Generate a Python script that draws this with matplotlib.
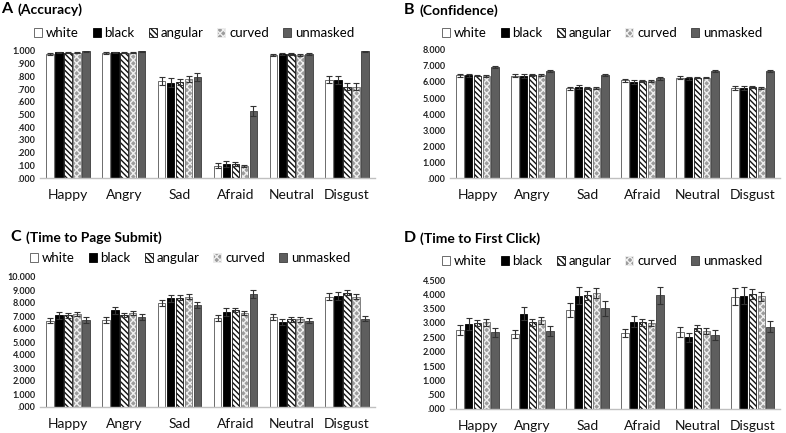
import matplotlib
matplotlib.use("Agg")
import matplotlib.pyplot as plt
import numpy as np

plt.rcParams['font.family'] = ['Lato', 'DejaVu Sans']
plt.rcParams['hatch.linewidth'] = 1.0

categories = ["Happy", "Angry", "Sad", "Afraid", "Neutral", "Disgust"]
series = ["white", "black", "angular", "curved", "unmasked"]

# Panel A: Accuracy
acc_white = [0.980, 0.985, 0.765, 0.095, 0.970, 0.775]
acc_black = [0.990, 0.990, 0.750, 0.110, 0.975, 0.770]
acc_angular = [0.985, 0.988, 0.755, 0.110, 0.975, 0.720]
acc_curved = [0.985, 0.985, 0.780, 0.095, 0.970, 0.720]
acc_unmasked = [0.998, 0.998, 0.795, 0.530, 0.975, 0.998]
acc_err_white = [0.008, 0.005, 0.030, 0.020, 0.008, 0.030]
acc_err_black = [0.004, 0.004, 0.035, 0.022, 0.008, 0.030]
acc_err_angular = [0.004, 0.004, 0.022, 0.015, 0.006, 0.025]
acc_err_curved = [0.004, 0.004, 0.022, 0.010, 0.006, 0.025]
acc_err_unmasked = [0.002, 0.002, 0.030, 0.040, 0.006, 0.002]

# Panel B: Confidence
conf_white = [6.42, 6.40, 5.60, 6.10, 6.28, 5.60]
conf_black = [6.42, 6.40, 5.70, 6.00, 6.22, 5.65]
conf_angular = [6.40, 6.45, 5.65, 6.05, 6.28, 5.70]
conf_curved = [6.38, 6.42, 5.65, 6.08, 6.28, 5.62]
conf_unmasked = [6.92, 6.68, 6.45, 6.22, 6.68, 6.68]
conf_err_white = [0.10, 0.10, 0.10, 0.10, 0.10, 0.12]
conf_err_black = [0.10, 0.12, 0.12, 0.10, 0.10, 0.12]
conf_err_angular = [0.05, 0.06, 0.06, 0.05, 0.05, 0.06]
conf_err_curved = [0.06, 0.06, 0.06, 0.06, 0.06, 0.06]
conf_err_unmasked = [0.06, 0.07, 0.07, 0.07, 0.08, 0.07]

# Panel C: Time to Page Submit
sub_white = [6.65, 6.72, 8.00, 6.85, 6.95, 8.50]
sub_black = [7.05, 7.45, 8.35, 7.30, 6.55, 8.55]
sub_angular = [7.05, 7.05, 8.40, 7.45, 6.75, 8.80]
sub_curved = [7.15, 7.25, 8.50, 7.25, 6.75, 8.50]
sub_unmasked = [6.72, 6.92, 7.85, 8.70, 6.65, 6.80]
sub_err_white = [0.22, 0.22, 0.25, 0.25, 0.22, 0.28]
sub_err_black = [0.25, 0.28, 0.28, 0.28, 0.22, 0.30]
sub_err_angular = [0.18, 0.15, 0.18, 0.18, 0.18, 0.20]
sub_err_curved = [0.18, 0.15, 0.18, 0.15, 0.18, 0.22]
sub_err_unmasked = [0.22, 0.25, 0.25, 0.30, 0.22, 0.22]

# Panel D: Time to First Click
clk_white = [2.75, 2.62, 3.45, 2.65, 2.68, 3.92]
clk_black = [2.97, 3.32, 3.95, 3.05, 2.50, 3.95]
clk_angular = [3.00, 3.02, 3.97, 3.02, 2.82, 4.02]
clk_curved = [3.02, 3.10, 4.05, 3.00, 2.72, 3.93]
clk_unmasked = [2.68, 2.72, 3.52, 3.97, 2.58, 2.87]
clk_err_white = [0.17, 0.15, 0.25, 0.15, 0.17, 0.30]
clk_err_black = [0.21, 0.23, 0.30, 0.20, 0.16, 0.30]
clk_err_angular = [0.12, 0.12, 0.16, 0.13, 0.11, 0.17]
clk_err_curved = [0.12, 0.12, 0.18, 0.12, 0.11, 0.16]
clk_err_unmasked = [0.16, 0.18, 0.26, 0.30, 0.17, 0.20]

panels = [
    ("A", "(Accuracy)", [acc_white, acc_black, acc_angular, acc_curved, acc_unmasked],
     [acc_err_white, acc_err_black, acc_err_angular, acc_err_curved, acc_err_unmasked],
     1.0, 0.1, ['.000', '.100', '.200', '.300', '.400', '.500', '.600', '.700', '.800', '.900', '1.000']),
    ("B", "(Confidence)", [conf_white, conf_black, conf_angular, conf_curved, conf_unmasked],
     [conf_err_white, conf_err_black, conf_err_angular, conf_err_curved, conf_err_unmasked],
     8.0, 1.0, ['.000', '1.000', '2.000', '3.000', '4.000', '5.000', '6.000', '7.000', '8.000']),
    ("C", "(Time to Page Submit)", [sub_white, sub_black, sub_angular, sub_curved, sub_unmasked],
     [sub_err_white, sub_err_black, sub_err_angular, sub_err_curved, sub_err_unmasked],
     10.0, 1.0, ['.000', '1.000', '2.000', '3.000', '4.000', '5.000', '6.000', '7.000', '8.000', '9.000', '10.000']),
    ("D", "(Time to First Click)", [clk_white, clk_black, clk_angular, clk_curved, clk_unmasked],
     [clk_err_white, clk_err_black, clk_err_angular, clk_err_curved, clk_err_unmasked],
     4.5, 0.5, ['.000', '.500', '1.000', '1.500', '2.000', '2.500', '3.000', '3.500', '4.000', '4.500']),
]

W, H = 786, 433
fig = plt.figure(figsize=(W / 100, H / 100), dpi=100)

# axes rectangles in pixel coords: left, right, top(ymax), bottom(y0)
rects = [(40, 375, 51, 178), (450, 780, 50, 178), (40, 375, 277, 407), (450, 780, 280, 409)]
title_pos = [(1, 9), (404, 10), (10, 237), (404, 238)]
legend_center = [(194, 33), (602, 33), (190, 258), (602, 261)]

styles = [
    dict(facecolor='white', edgecolor='#555555', hatch=None),
    dict(facecolor='black', edgecolor='black', hatch=None),
    dict(facecolor='white', edgecolor='#111111', hatch='\\\\\\\\\\\\'),
    dict(facecolor='#9c9c9c', edgecolor='#f0f0f0', hatch='xxxxx'),
    dict(facecolor='#5e5e5e', edgecolor='#3c3c3c', hatch=None),
]

pitch = 0.16
bw = 0.135
offsets = (np.arange(5) - 2) * pitch
x = np.arange(len(categories))

for k, ((letter, title, vals, errs, ymax, step, ylabels), (l, r, t, b), (tx, ty)) in enumerate(
        zip(panels, rects, title_pos)):
    ax = fig.add_axes([l / W, 1 - b / H, (r - l) / W, (b - t) / H])
    handles = []
    for i, s in enumerate(series):
        st = styles[i]
        h = ax.bar(x + offsets[i], vals[i], width=bw, facecolor=st['facecolor'],
                   edgecolor=st['edgecolor'], hatch=st['hatch'], linewidth=0.6,
                   label=s, zorder=2)
        if i == 3:
            ax.bar(x + offsets[i], vals[i], width=bw, fill=False,
                   edgecolor='#808080', linewidth=0.7, zorder=2.5)
        ax.errorbar(x + offsets[i], vals[i], yerr=errs[i], fmt='none', ecolor='#333333',
                    elinewidth=0.8, capsize=2.0, capthick=0.8, zorder=3)
        handles.append(h)
    ax.set_xlim(-0.5, len(categories) - 0.5)
    ax.set_ylim(0, ymax)
    ticks = np.arange(len(ylabels)) * step
    ax.set_yticks(ticks)
    ax.set_yticklabels(ylabels, fontsize=6.5, fontweight='bold', color='#222222')
    ax.set_xticks(x)
    ax.set_xticklabels(categories, fontsize=10, color='#111111')
    ax.tick_params(axis='both', length=0, pad=3)
    ax.tick_params(axis='x', pad=8)
    for sp in ['top', 'right', 'left']:
        ax.spines[sp].set_visible(False)
    ax.spines['bottom'].set_color('#c0c0c0')
    ax.spines['bottom'].set_linewidth(1.0)
    lx, ly = legend_center[k]
    ax.legend(handles=handles, ncol=5, loc='center',
              bbox_to_anchor=(lx / W, 1 - ly / H), bbox_transform=fig.transFigure,
              frameon=False, fontsize=9.5, handlelength=0.6, handleheight=0.6,
              handletextpad=0.3, columnspacing=1.05, borderaxespad=0.0, borderpad=0.0)
    fig.text(tx / W, 1 - ty / H, letter, fontsize=11.5, fontweight='bold', va='center', ha='left')
    fig.text((tx + 16) / W, 1 - (ty + 1) / H, title, fontsize=10, fontweight='bold', va='center', ha='left')

fig.savefig("out.png", dpi=100)
